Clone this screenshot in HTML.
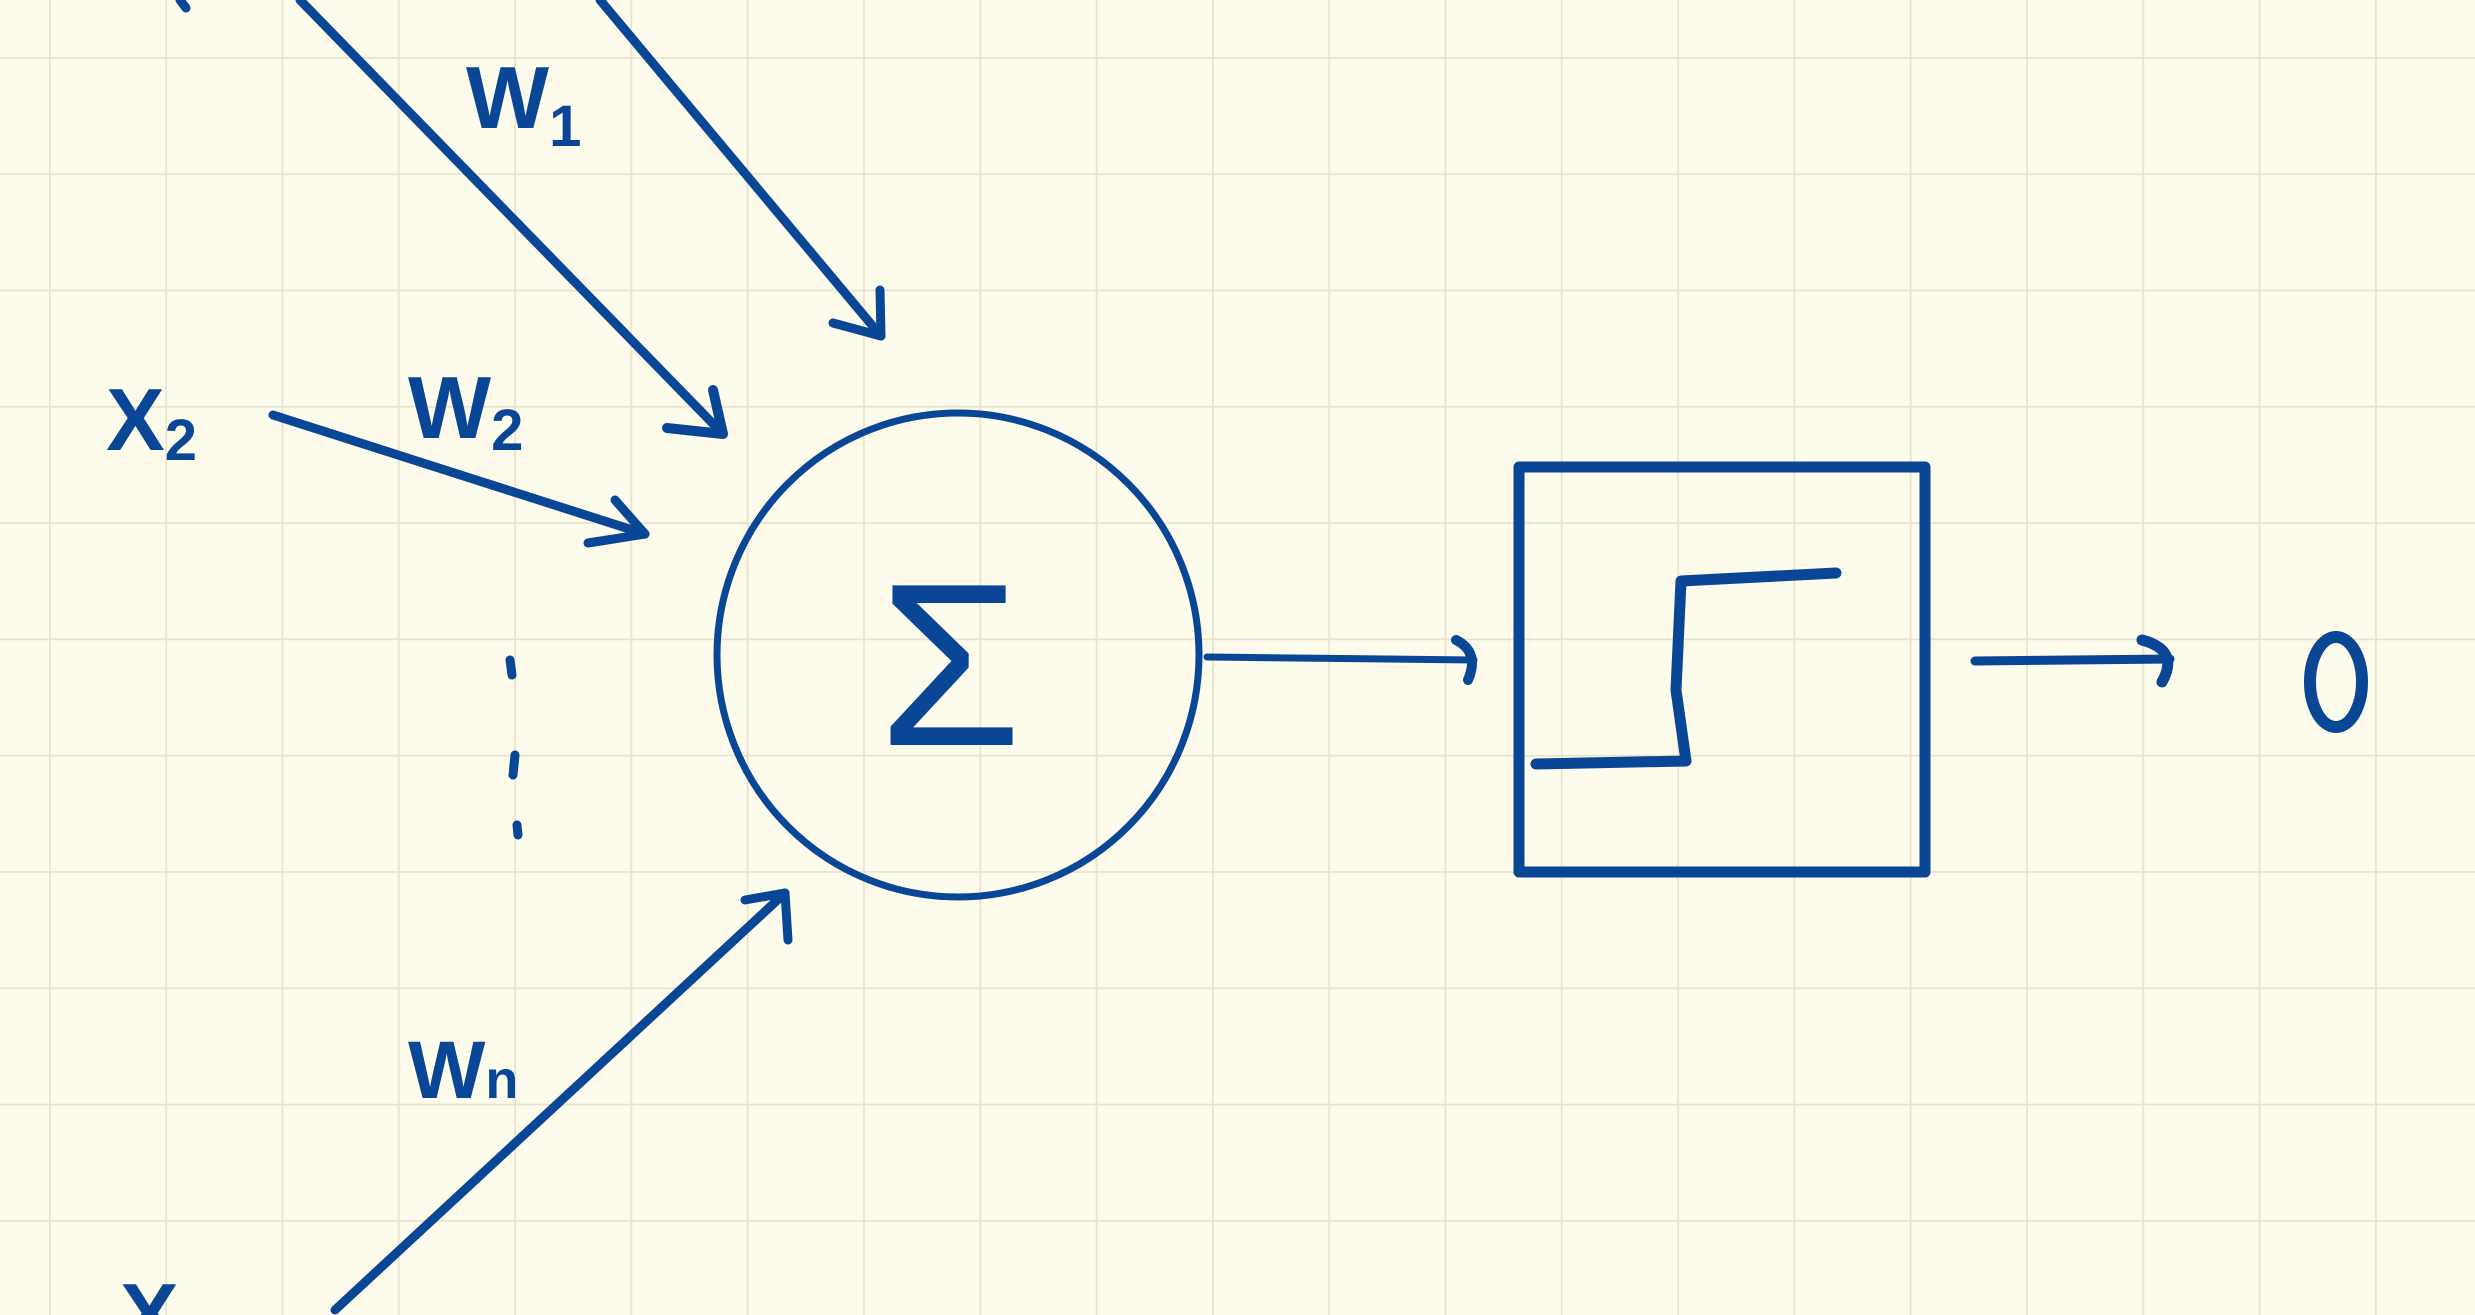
<!DOCTYPE html>
<html><head><meta charset="utf-8"><style>
html,body{margin:0;padding:0;background:#fdfbec;}
svg{display:block;}
</style></head><body>
<svg width="2475" height="1315" viewBox="0 0 2475 1315" xmlns="http://www.w3.org/2000/svg">
<defs>
<pattern id="g" x="49" y="57" width="116.3" height="116.3" patternUnits="userSpaceOnUse">
<path d="M0 0V116.3M0 0H116.3" stroke="#e8e3cc" stroke-width="3.5" fill="none"/>
</pattern>
</defs>
<rect width="2475" height="1315" fill="#fdfbec"/>
<rect width="2475" height="1315" fill="url(#g)"/>
<g stroke="#0a4696" fill="none" stroke-linecap="round" stroke-linejoin="round">
<ellipse cx="958" cy="655" rx="241" ry="242" stroke-width="7"/>
<rect x="1519" y="467" width="406" height="405" stroke-width="11"/>
<polyline points="1536,764 1686,761 1676,690 1681,581 1836,573" stroke-width="11"/>
<path d="M1207 657 L1474 660" stroke-width="7"/>
<path d="M1456 640 Q1480 652 1468 680" stroke-width="10"/>
<path d="M1975 661 L2170 659" stroke-width="9"/>
<path d="M2142 640 Q2180 650 2162 682" stroke-width="11"/>
<path d="M600 0 L881 336" stroke-width="9"/>
<path d="M833 323 L881 336 L880 290" stroke-width="9"/>
<path d="M300 0 L723 434" stroke-width="9"/>
<path d="M667 428 L723 434 L713 390" stroke-width="10"/>
<path d="M273 415 L645 534" stroke-width="9"/>
<path d="M588 543 L645 534 L615 500" stroke-width="9"/>
<path d="M335 1310 L785 893" stroke-width="9"/>
<path d="M745 900 L785 893 L788 940" stroke-width="9"/>
<ellipse cx="2336" cy="682" rx="26" ry="45" stroke-width="12"/>
<path d="M510 660 L512 675 M515 755 L513 775 M517 825 L518 835" stroke-width="9"/>
<path d="M180 0 L186 8" stroke-width="9"/>
</g>
<g fill="#0a4696" font-family="Liberation Sans, sans-serif" font-weight="bold">
<text x="950" y="745" font-size="232" text-anchor="middle" font-weight="normal">Σ</text>
<text x="466" y="128" font-size="88">W<tspan font-size="58" dy="18">1</tspan></text>
<text x="408" y="438" font-size="88">W<tspan font-size="58" dy="12">2</tspan></text>
<text x="408" y="1098" font-size="82">W<tspan font-size="54">n</tspan></text>
<text x="106" y="450" font-size="88">X<tspan font-size="58" dy="10">2</tspan></text>
<text x="120" y="1345" font-size="88">X</text>
</g>
</svg>
</body></html>
